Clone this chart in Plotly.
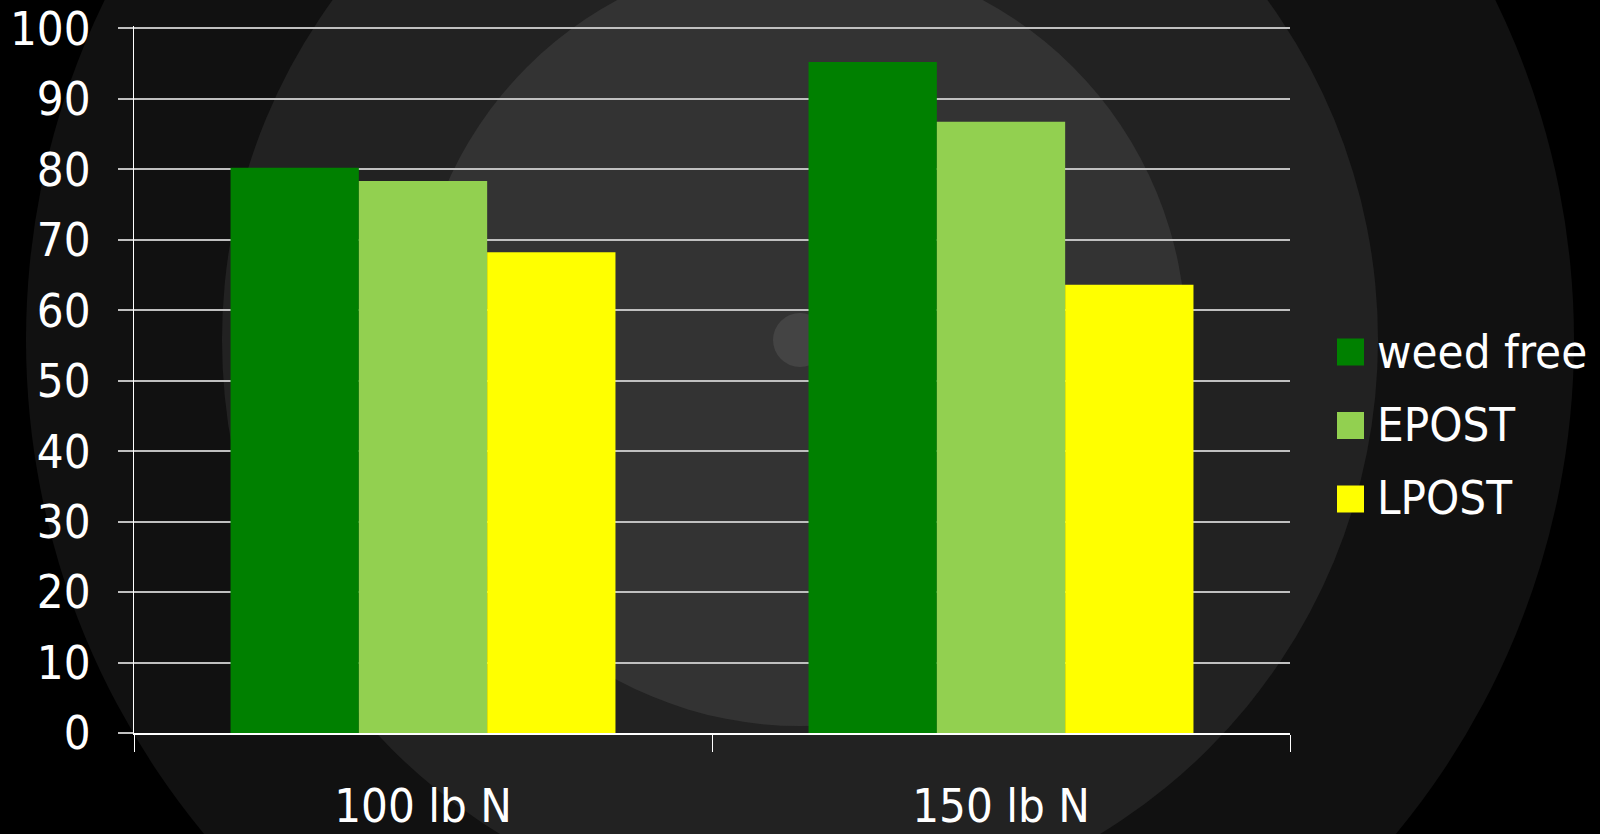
import plotly.graph_objects as go

categories = ["100 lb N", "150 lb N"]
series_names = ["weed free", "EPOST", "LPOST"]
weed_free = [80.2, 95.2]
epost = [78.3, 86.7]
lpost = [68.2, 63.6]
series_values = [weed_free, epost, lpost]
series_colors = ["#008000", "#92D050", "#FFFF00"]
y_ticks = [0, 10, 20, 30, 40, 50, 60, 70, 80, 90, 100]

W, H = 1600, 834
L, R, T, B = 134, 310, 26, 101
PW, PH = W - L - R, H - T - B
Y_MAX = 100.3

def px_x(x):
    return (x - L) / PW

def px_y(y):
    return (H - B - y) / PH

fig = go.Figure()
for name, vals, col in zip(series_names, series_values, series_colors):
    fig.add_trace(go.Bar(name=name, x=categories, y=vals, marker=dict(color=col, line=dict(width=0)),
                         showlegend=False))

shapes = []
# concentric background circles
cx, cy = 800, 340
for r, col in [(774, "#111111"), (578, "#222222"), (386, "#333333"), (27, "#444444")]:
    shapes.append(dict(type="circle", xref="paper", yref="paper", layer="below",
                       x0=px_x(cx - r), x1=px_x(cx + r), y0=px_y(cy + r), y1=px_y(cy - r),
                       fillcolor=col, line=dict(width=0)))

annotations = []
FONT = "DejaVu Sans Condensed, DejaVu Sans"
# legend
leg_x, leg_y0, leg_dy, sw = 1337, 352, 73.5, 27
for i, (name, col) in enumerate(zip(series_names, series_colors)):
    yc = leg_y0 + i * leg_dy
    shapes.append(dict(type="rect", xref="paper", yref="paper", layer="above",
                       x0=px_x(leg_x), x1=px_x(leg_x + sw), y0=px_y(yc + sw / 2), y1=px_y(yc - sw / 2),
                       fillcolor=col, line=dict(width=0)))
    annotations.append(dict(xref="paper", yref="paper", x=px_x(leg_x + 38), y=px_y(yc - 1),
                            xanchor="left", yanchor="middle", showarrow=False, text=name,
                            font=dict(family=FONT, size=47, color="white")))

fig.update_layout(
    width=W, height=H,
    margin=dict(l=L, r=R, t=T, b=B),
    paper_bgcolor="#000000",
    plot_bgcolor="rgba(0,0,0,0)",
    barmode="group", bargap=0.334, bargroupgap=0,
    showlegend=False,
    shapes=shapes, annotations=annotations,
    font=dict(family=FONT, size=47, color="white"),
)
fig.update_yaxes(range=[0, Y_MAX], tickvals=y_ticks, automargin=False,
                 showgrid=True, gridcolor="#c0c0c0", gridwidth=1.5,
                 zeroline=False, showline=True, linecolor="#ffffff", linewidth=1,
                 ticks="outside", ticklen=15, tickcolor="#c0c0c0", tickwidth=1.5,
                 ticklabelstandoff=18, tickfont=dict(size=47, color="white"))
fig.update_xaxes(automargin=False, showline=True, linecolor="#ffffff", linewidth=1.5, showgrid=False,
                 ticks="outside", tickson="boundaries", ticklen=17, tickcolor="#ffffff", tickwidth=1,
                 ticklabelstandoff=31, tickfont=dict(size=47, color="white"))

fig.write_html("out.html", config={"displayModeBar": False},
               post_script="document.body.style.margin='0';document.body.style.overflow='hidden';")
